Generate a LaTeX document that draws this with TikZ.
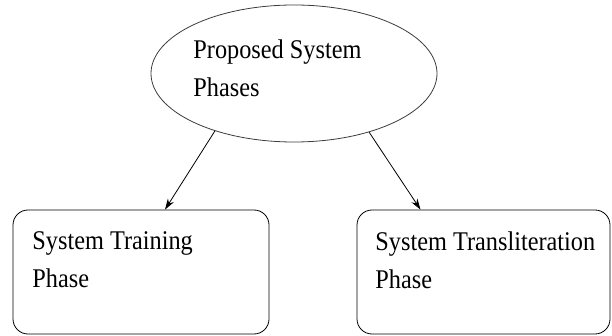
\documentclass[tikz,border=0pt]{standalone}
\usepackage{fontspec}
\setmainfont{Liberation Serif}[FakeStretch=0.9]
\usetikzlibrary{shapes.geometric,arrows.meta}

\tikzset{every picture/.style={line width=0.8pt}}
\tikzset{
  phaseellipse/.style={draw={rgb, 255:red, 60; green, 60; blue, 60 }, ellipse, minimum width=286, minimum height=137, inner sep=0},
  phasebox/.style={draw, rounded corners=15, minimum width=256, minimum height=124, inner sep=0},
  phasetext/.style={anchor=north west, align=left, inner sep=0, font=\fontsize{27}{38}\selectfont},
  phasearrow/.style={-{Stealth[length=11pt,width=7pt]}}
}

\begin{document}
\begin{tikzpicture}[x=1pt,y=1pt,yscale=-1,xscale=1]
	\useasboundingbox (0,0) rectangle (612,336);

	%Shape: Ellipse [id:phases]
	\node [phaseellipse] (phases) at (294,73.5) {};
	%Shape: Rectangle [id:trainBox]
	\node [phasebox] (trainBox) at (141,272) {};
	%Shape: Rectangle [id:translitBox]
	\node [phasebox, minimum width=253] (translitBox) at (483.5,272) {};

	%Straight Lines [id:trainArrow]
	\coordinate (trainIn) at ([xshift=24]trainBox.north);
	\draw [phasearrow] (phases.216) -- (trainIn);
	%Straight Lines [id:translitArrow]
	\coordinate (translitIn) at ([xshift=-63]translitBox.north);
	\draw [phasearrow] (phases.322) -- (translitIn);

	% Text Node
	\node [phasetext] (phasesText) at (193,39) {Proposed System\\Phases};
	% Text Node
	\node [phasetext] (trainText) at (32,231.5) {System Training\\Phase};
	% Text Node
	\node [phasetext] (translitText) at (375,231.5) {System Transliteration\\Phase};

\end{tikzpicture}
\end{document}
